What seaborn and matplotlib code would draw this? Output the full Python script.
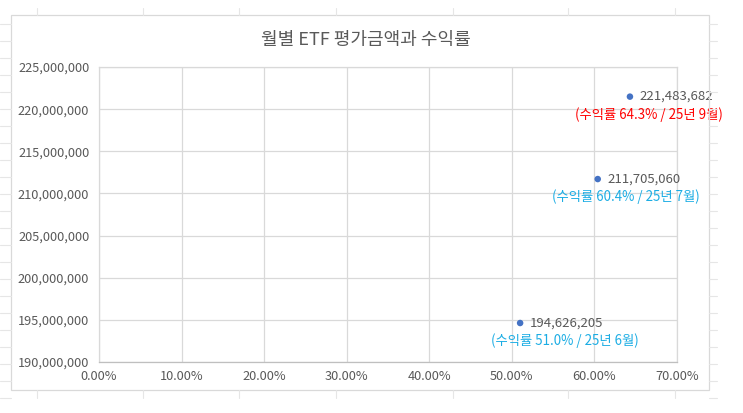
import matplotlib
matplotlib.use("Agg")
import matplotlib.pyplot as plt
import matplotlib.ticker as mticker
from matplotlib.lines import Line2D
from matplotlib.patches import Rectangle
import seaborn as sns
import pandas as pd

# data
months = ["25년 6월", "25년 7월", "25년 9월"]
returns = [0.510, 0.604, 0.643]
values = [194626205, 211705060, 221483682]
label_colors = ["#1CADE4", "#1CADE4", "#FF0000"]

# label placement (pixels, relative to marker)
second_line_dx = [45, 28, 19]

sns.set_theme(style="white")
plt.rcParams["font.family"] = ["Noto Sans CJK KR", "DejaVu Sans"]

df = pd.DataFrame({"month": months, "ret": returns, "value": values})

W, H = 743, 413
fig = plt.figure(figsize=(W / 100, H / 100), dpi=100)
fig.patch.set_facecolor("white")

# faint spreadsheet cell lines around the chart object
cell_c = "#e6e6e6"
for y in range(24, 410, 17):
    fig.add_artist(Line2D([0, 11 / W], [1 - y / H, 1 - y / H], color=cell_c, lw=0.8))
    fig.add_artist(Line2D([709 / W, 717 / W], [1 - y / H, 1 - y / H], color=cell_c, lw=0.8))
for x in [37, 143, 239, 336, 453, 568, 675]:
    fig.add_artist(Line2D([x / W, x / W], [1 - 8 / H, 1 - 15 / H], color=cell_c, lw=0.8))
    fig.add_artist(Line2D([x / W, x / W], [1 - 390 / H, 1 - 398 / H], color=cell_c, lw=0.8))

# chart object border
fig.add_artist(Rectangle((11 / W, 1 - 390 / H), (709 - 11) / W, (390 - 15) / H,
                         transform=fig.transFigure, fill=False,
                         edgecolor="#d9d9d9", lw=0.9))

ax = fig.add_axes([99 / W, 1 - 362 / H, (677 - 99) / W, (362 - 67) / H])
ax.set_facecolor("none")

sns.scatterplot(data=df, x="ret", y="value", ax=ax, color="#4472C4",
                s=22, edgecolor="none", zorder=3, legend=False)

ax.set_xlim(0, 0.70)
ax.set_ylim(190000000, 225000000)
ax.xaxis.set_major_locator(mticker.MultipleLocator(0.10))
ax.yaxis.set_major_locator(mticker.MultipleLocator(5000000))
ax.xaxis.set_major_formatter(mticker.FuncFormatter(lambda v, p: f"{v * 100:.2f}%"))
ax.yaxis.set_major_formatter(mticker.FuncFormatter(lambda v, p: f"{v:,.0f}"))

ax.grid(True, color="#d9d9d9", lw=0.9)
for s in ax.spines.values():
    s.set_color("#d9d9d9")
    s.set_linewidth(0.9)
ax.spines["bottom"].set_color("#bfbfbf")
ax.tick_params(axis="both", length=0, labelsize=9.2, colors="#595959")
ax.tick_params(axis="x", pad=6)
ax.tick_params(axis="y", pad=7)
ax.set_xlabel("")
ax.set_ylabel("")

for i, row in df.iterrows():
    ax.annotate(f"{row['value']:,}", (row["ret"], row["value"]),
                xytext=(10, 0), textcoords="offset pixels",
                ha="left", va="center", fontsize=9.5, color="#595959")
    ax.annotate(f"(수익률 {row['ret'] * 100:.1f}% / {row['month']})",
                (row["ret"], row["value"]),
                xytext=(second_line_dx[i], -18), textcoords="offset pixels",
                ha="center", va="center", fontsize=9.6, color=label_colors[i],
                annotation_clip=False)

fig.text(366 / W, 1 - 40 / H, "월별 ETF 평가금액과 수익률", ha="center", va="center",
         fontsize=13, color="#595959")

fig.savefig("out.png", dpi=100)
